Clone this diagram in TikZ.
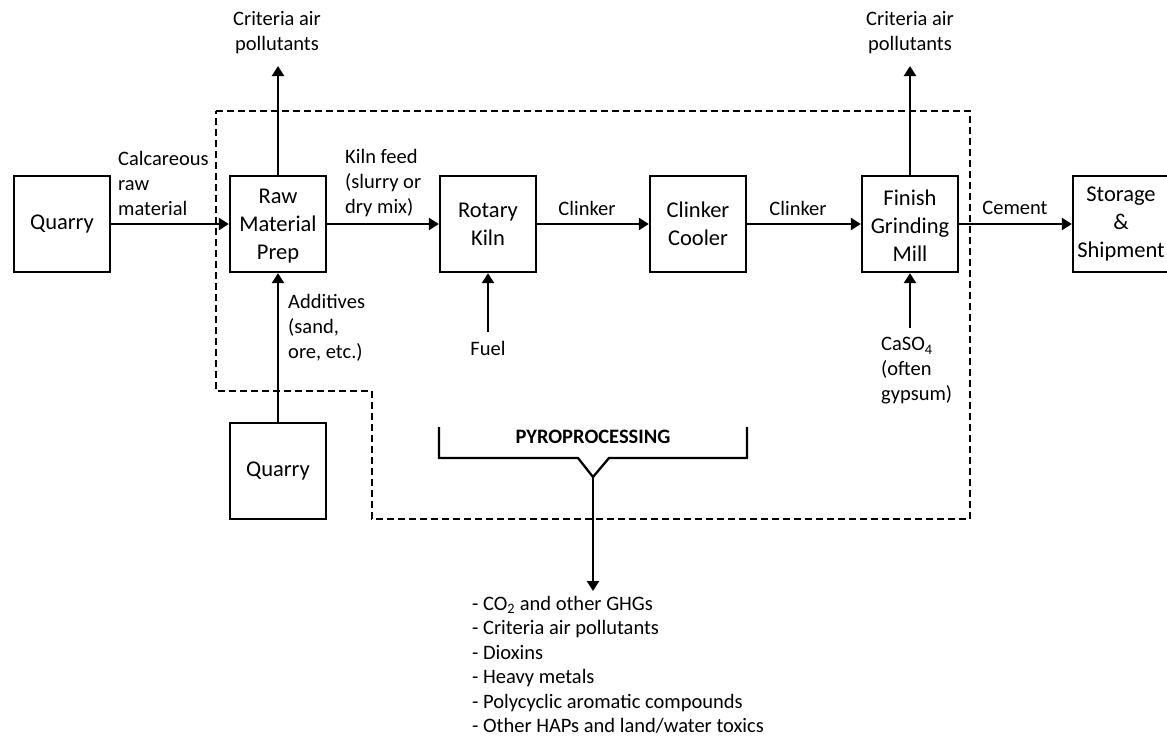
\documentclass[tikz,border=0pt]{standalone}
\usepackage{fontspec}
\setmainfont{Carlito}
\usetikzlibrary{
  arrows.meta,
  positioning,
}
\tikzset{
  >={Triangle[length=10pt,width=12pt]},
  unit/.style={
    draw,
    line width=2.3pt,
    minimum width=96pt,
    minimum height=96pt,
    inner sep=0pt,
    align=center,
    font=\fontsize{22.5}{28}\selectfont,
  },
  tag/.style={inner sep=0pt, font=\fontsize{20.5}{25}\selectfont},
  flow/.style={line width=2.3pt, ->},
  boundary/.style={line width=1.6pt, dash pattern=on 7pt off 4pt},
}

\begin{document}
\begin{tikzpicture}[x=1pt,y=-1pt]
  \useasboundingbox (0,0) rectangle (1167,744);
  \fill[white] (0,0) rectangle (1167,744);

  % plant boundary
  \draw[boundary] (216,111) -- (970,111) -- (970,519) -- (372,519)
    -- (372,391) -- (216,391) -- cycle;

  % process units
  \node[unit] (quarry) at (62,224) {Quarry};
  \node[unit] (prep) at (278,224) {\strut Raw\\Material\\Prep};
  \node[unit] (kiln) at (488,224) {Rotary\\Kiln};
  \node[unit] (cooler) at (698,224) {Clinker\\Cooler};
  \node[unit] (mill) at (910,224) {\strut Finish\\Grinding\\Mill};
  \node[unit] (storage) at (1121,224) {Storage\\\&\\Shipment};
  \node[unit] (quarry2) at (278,471) {Quarry};

  % main line
  \draw[flow] (quarry) -- (prep);
  \draw[flow] (prep) -- (kiln);
  \draw[flow] (kiln) -- (cooler);
  \draw[flow] (cooler) -- (mill);
  \draw[flow] (mill) -- (storage);
  \node[tag, anchor=west, align=left] (calc) at (118,183) {Calcareous\\raw\\material};
  \node[tag, anchor=west, align=left] (feed) at (345,183) {Kiln feed\\(slurry or\\dry mix)};
  \node[tag] (clk1) at (587,208) {Clinker};
  \node[tag] (clk2) at (798,208) {Clinker};
  \node[tag] (cem) at (1015,208) {Cement};

  % air emissions
  \node[tag, align=center] (air1) at (277,33) {Criteria air\\pollutants};
  \node[tag, align=center] (air2) at (910,33) {Criteria air\\pollutants};
  \coordinate (out1) at (278,66);
  \coordinate (out2) at (910,66);
  \draw[flow] (prep) -- (out1);
  \draw[flow] (mill) -- (out2);

  % inputs
  \draw[flow] (quarry2) -- (prep);
  \node[tag, anchor=west, align=left] (add) at (288,328) {Additives\\(sand,\\ore, etc.)};
  \node[tag] (fuel) at (488,348) {Fuel};
  \draw[flow, shorten <=9pt] (fuel) -- (kiln);
  \node[tag, anchor=west, align=left] (gyp) at (881,371) {CaSO\textsubscript{4}\\(often\\gypsum)};
  \draw[flow, shorten <=9pt] (gyp.north -| mill) -- (mill);

  % pyroprocessing
  \node[tag, font=\fontsize{20.5}{25}\selectfont\bfseries] (pyro) at (593,437) {PYROPROCESSING};
  \coordinate (tip) at (593,477);
  \draw[line width=2.3pt] (439,427) -- (439,458) -- (578,458) -- (tip)
    -- (609,458) -- (747,458) -- (747,427);
  \coordinate (emis) at (593,591);
  \draw[flow] (tip) -- (emis);
  \node[tag, anchor=north west, align=left, font=\fontsize{20.5}{24.5}\selectfont] (list) at (472,596)
    {- CO\textsubscript{2} and other GHGs\\- Criteria air pollutants\\- Dioxins\\- Heavy metals\\- Polycyclic aromatic compounds\\- Other HAPs and land/water toxics};
\end{tikzpicture}
\end{document}
